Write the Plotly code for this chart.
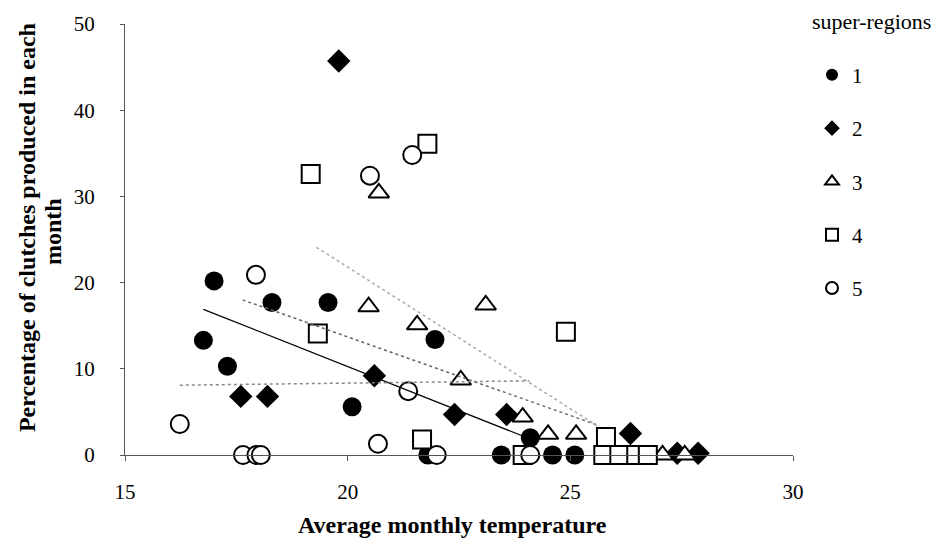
import plotly.graph_objects as go

# Series data (Average monthly temperature, % clutches)
s1_x = [16.76, 17.0, 17.3, 18.3, 19.56, 20.1, 21.96, 21.8, 23.45, 24.1, 24.6, 25.1]
s1_y = [13.3, 20.2, 10.3, 17.7, 17.7, 5.6, 13.4, 0.0, 0.0, 2.0, 0.0, 0.0]

s2_x = [19.8, 17.6, 18.2, 20.6, 22.4, 23.57, 26.35, 27.4, 27.87]
s2_y = [45.7, 6.8, 6.8, 9.2, 4.7, 4.7, 2.5, 0.2, 0.2]

s3_x = [20.7, 20.47, 21.56, 22.54, 23.1, 23.93, 24.5, 25.13, 27.07, 27.57]
s3_y = [30.4, 17.2, 15.1, 8.7, 17.4, 4.4, 2.4, 2.4, 0.0, 0.0]

s4_x = [19.17, 21.79, 19.33, 21.67, 24.9, 25.8, 23.93, 25.74, 26.1, 26.48, 26.74]
s4_y = [32.6, 36.1, 14.1, 1.8, 14.3, 2.1, 0.0, 0.0, 0.0, 0.0, 0.0]

s5_x = [20.5, 21.45, 17.94, 16.23, 21.36, 20.68, 17.65, 17.95, 18.05, 22.0, 24.1]
s5_y = [32.4, 34.8, 20.9, 3.6, 7.4, 1.3, 0.0, 0.0, 0.0, 0.0, 0.0]

# Trend lines (end points)
t1_x = [16.76, 23.93]; t1_y = [16.9, 2.2]
t2_x = [17.64, 25.65]; t2_y = [18.0, 3.4]
t4_x = [19.3, 25.6];   t4_y = [24.1, 3.4]
t5_x = [16.23, 24.08]; t5_y = [8.1, 8.6]

x_ticks = [15, 20, 25, 30]
y_ticks = [0, 10, 20, 30, 40, 50]

FONT = "Liberation Serif"
L, R, T, B = 125, 139, 20, 90
W, H = 932, 545
PW, PH = W - L - R, H - T - B

def px2paper_x(px):
    return (px - L) / PW

def px2paper_y(py):
    return (H - B - py) / PH

fig = go.Figure()

def add_series(x, y, name, symbol, fill, size):
    fig.add_trace(go.Scatter(
        x=x, y=y, mode="markers", name=name, cliponaxis=False,
        legendgroup=name,
        marker=dict(symbol=symbol, size=size, color=fill,
                    line=dict(color="black", width=2 if fill == "white" else 0)),
    ))

add_series(s1_x, s1_y, "1", "circle", "black", 19)
add_series(s2_x, s2_y, "2", "diamond", "black", 18)
add_series(s3_x, s3_y, "3", "triangle-up", "white", 18)
add_series(s4_x, s4_y, "4", "square", "white", 18)
add_series(s5_x, s5_y, "5", "circle", "white", 18)

def add_line(x, y, color, dash, width=1.2):
    fig.add_trace(go.Scatter(x=x, y=y, mode="lines", showlegend=False,
                             hoverinfo="skip",
                             line=dict(color=color, dash=dash, width=width)))

add_line(t1_x, t1_y, "black", "solid", 1.2)
add_line(t2_x, t2_y, "#666666", "dot", 1.5)
add_line(t4_x, t4_y, "#aaaaaa", "dot", 1.5)
add_line(t5_x, t5_y, "#888888", "dot", 1.5)

fig.update_layout(
    width=W, height=H,
    margin=dict(l=L, r=R, t=T, b=B),
    plot_bgcolor="white", paper_bgcolor="white",
    font=dict(family=FONT, size=21, color="black"),
    legend=dict(
        x=px2paper_x(812), xanchor="left", y=px2paper_y(51), yanchor="top",
        tracegroupgap=23, itemsizing="constant", maxheight=1.0,
        font=dict(size=21, family=FONT),
    ),
    annotations=[
        dict(text="super-regions", x=px2paper_x(810), y=px2paper_y(17),
             xref="paper", yref="paper", xanchor="left", yanchor="middle",
             showarrow=False, font=dict(size=22, family=FONT)),
        dict(text="<b>Average monthly temperature</b>", x=px2paper_x(452),
             y=px2paper_y(526), xref="paper", yref="paper",
             xanchor="center", yanchor="middle", showarrow=False,
             font=dict(size=24, family=FONT)),
        dict(text="<b>Percentage of clutches produced in each</b>",
             x=px2paper_x(27), y=px2paper_y(226), xref="paper", yref="paper",
             xanchor="center", yanchor="middle", textangle=-90,
             showarrow=False, font=dict(size=24, family=FONT)),
        dict(text="<b>month</b>",
             x=px2paper_x(53), y=px2paper_y(230), xref="paper", yref="paper",
             xanchor="center", yanchor="middle", textangle=-90,
             showarrow=False, font=dict(size=24, family=FONT)),
    ],
)

fig.update_xaxes(
    range=[15, 30], tickvals=x_ticks, ticktext=[str(v) for v in x_ticks],
    showgrid=False, zeroline=False, showline=True, linecolor="#555555",
    linewidth=1, ticks="outside", ticklen=5, tickcolor="#555555",
    tickfont=dict(size=21, family=FONT), ticklabelstandoff=13,
)
fig.update_yaxes(
    range=[0, 50], tickvals=y_ticks, ticktext=[str(v) for v in y_ticks],
    showgrid=False, zeroline=False, showline=True, linecolor="#555555",
    linewidth=1, ticks="outside", ticklen=4, tickcolor="#555555",
    tickfont=dict(size=21, family=FONT), ticklabelstandoff=21,
)

fig.write_html("out.html")
